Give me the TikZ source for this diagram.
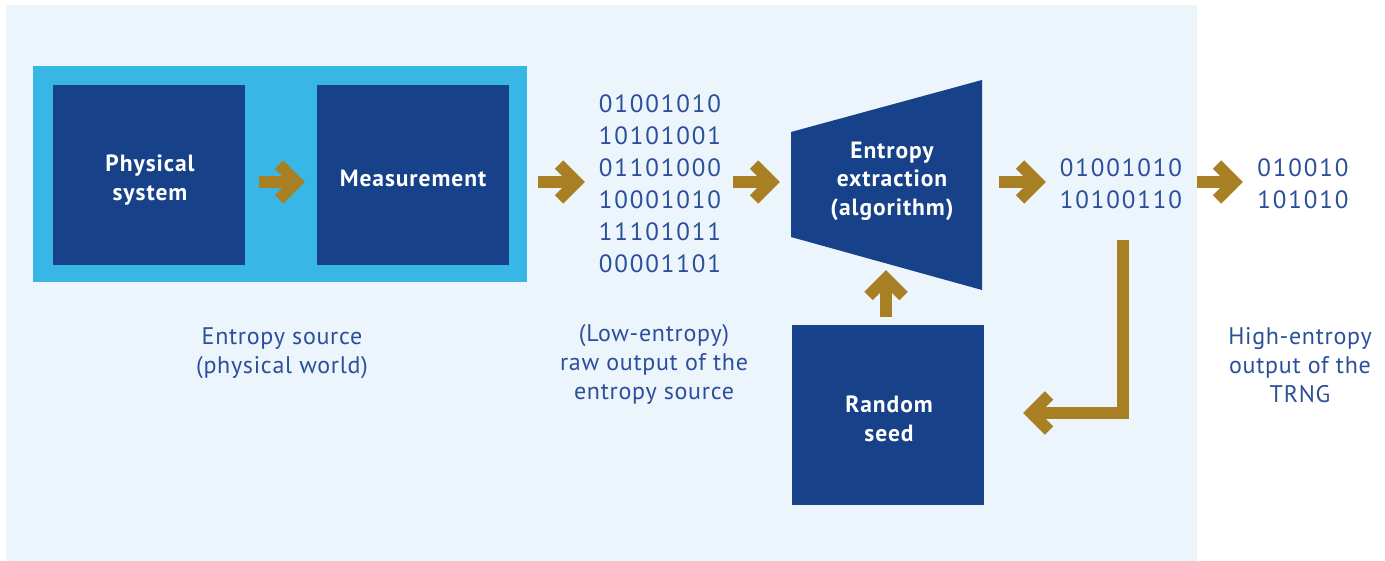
\documentclass[tikz,border=0pt]{standalone}
\usepackage{fontspec}
\setmainfont{PT Sans}
\newfontfamily\bitsfont[LetterSpace=7.5]{PT Sans}
\newfontfamily\capfont[LetterSpace=3]{PT Sans}
\newfontfamily\labelfont[LetterSpace=4]{PT Sans Bold}
\usetikzlibrary{calc}

\definecolor{panelbg}{HTML}{ECF4FC}
\definecolor{framecyan}{HTML}{38B6E6}
\definecolor{boxblue}{HTML}{174189}
\definecolor{arrowgold}{HTML}{A97F23}
\definecolor{textblue}{HTML}{2C4F9B}

\tikzset{
  darkbox/.style={fill=boxblue, inner sep=0pt, outer sep=0pt,
    minimum width=192, minimum height=180},
  boxlabel/.style={text=white, align=center, inner sep=0pt,
    font=\fontsize{23.5}{28.5}\labelfont},
  caption/.style={text=textblue, align=center, inner sep=0pt,
    font=\fontsize{24}{29}\capfont},
  bits/.style={text=textblue, align=center, inner sep=0pt,
    font=\fontsize{25}{32}\bitsfont},
  goldline/.style={draw=arrowgold, line width=12pt, line cap=butt, line join=miter},
}

% thick gold arrow with a chevron head; #1 is an optional lead-in path
\newcommand\goldarrow[3][]{%
  \path ($(#3)!8.5pt!(#2)$) coordinate (gv)
        ($(gv)!17.5pt!(#2)$) coordinate (gb);
  \draw[goldline] #1 (#2) -- (gv);
  \draw[goldline] ($(gb)!17.5pt!90:(gv)$) -- (gv) -- ($(gb)!17.5pt!-90:(gv)$);
}

\begin{document}
\begin{tikzpicture}[x=1pt, y=-1pt]
\useasboundingbox (0,0) rectangle (1385,561);

% background panel of the generator
\fill[panelbg] (6,5) rectangle (1197,561);

% entropy source: physical system and its measurement
\node[fill=framecyan, minimum width=494, minimum height=216, inner sep=0pt]
  (source) at (280,174) {};
\node[darkbox] (phys) at (149,175) {};
\node[boxlabel] (physlbl) at (150,180) {Physical\\system};
\node[darkbox] (meas) at (413,175) {};
\node[boxlabel] (measlbl) at (413,178) {Measurement};

% raw bits
\node[bits] (raw) at (660,184) {01001010\\10101001\\01101000\\10001010\\11101011\\00001101};

% extractor
\fill[boxblue] (791,132) coordinate (exA) -- (982,80) coordinate (exB)
  -- (982,290) coordinate (exC) -- (791,237) coordinate (exD) -- cycle;
\node[boxlabel] (extract) at (892,181) {Entropy\\extraction\\(algorithm)};

% seed
\node[darkbox] (seed) at (888,415) {};
\node[boxlabel] (seedlbl) at (889,419) {Random\\seed};

% extractor output and final output
\node[bits] (mid) at (1121,184) {01001010\\10100110};
\node[bits] (out) at (1303,184) {010010\\101010};

% captions
\node[caption] (cap1) at (282,353) {Entropy source\\(physical world)};
\node[caption] (cap2) at (654,364) {(Low-entropy)\\raw output of the\\entropy source};
\node[caption] (cap3) at (1300,365) {High-entropy\\output of the\\TRNG};

% arrow end points
\coordinate (a1s) at (259,182);  \coordinate (a1e) at (305,182);
\coordinate (a2s) at (538,182);  \coordinate (a2e) at (585,182);
\coordinate (a3s) at (733,182);  \coordinate (a3e) at (780,182);
\coordinate (a4s) at (999,182);  \coordinate (a4e) at (1046,182);
\coordinate (a5s) at (1197,182); \coordinate (a5e) at (1243,182);
\coordinate (ups) at (886,317);  \coordinate (upe) at (886,270);
\coordinate (fbs) at (1123,240); \coordinate (fbc) at (1123,413);
\coordinate (fbe) at (1023,413);

\goldarrow{a1s}{a1e}
\goldarrow{a2s}{a2e}
\goldarrow{a3s}{a3e}
\goldarrow{a4s}{a4e}
\goldarrow{a5s}{a5e}
\goldarrow{ups}{upe}
\goldarrow[(fbs) --]{fbc}{fbe}
\end{tikzpicture}
\end{document}
